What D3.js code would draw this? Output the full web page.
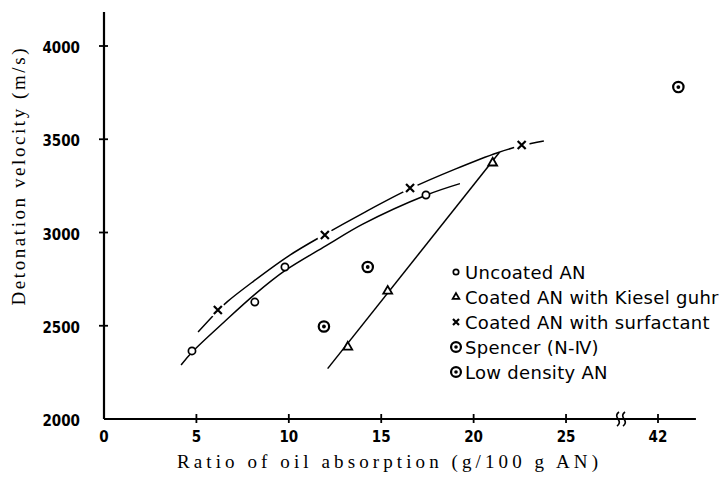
<!DOCTYPE html>
<html>
<head>
<meta charset="utf-8">
<script src="https://cdn.jsdelivr.net/npm/d3@7"></script>
<style>
  body { margin: 0; background: #fff; }
  .tick-label { font-family: "DejaVu Sans Condensed", "DejaVu Sans", sans-serif; font-weight: bold; font-size: 15px; }
  .title { font-family: "Liberation Serif", "DejaVu Serif", serif; font-size: 19px; }
  .legend { font-family: "DejaVu Sans", sans-serif; font-size: 18px; letter-spacing: 0.3px; }
</style>
</head>
<body>
<div class="chart"></div>
<script>
// values
var xLabelValues = [0, 5, 10, 15, 20, 25, 42];
var xTickValues = [5, 10, 15, 20, 25, 42];
var yTickValues = [2000, 2500, 3000, 3500, 4000];

var uncoated = [[4.76, 2365], [8.16, 2627], [9.79, 2815], [17.42, 3201]];
var kieselguhr = [[13.19, 2386], [15.35, 2686], [21.03, 3373]];
var surfactant = [[6.16, 2584], [11.95, 2987], [16.56, 3239], [22.6, 3469]];
var spencer = [[11.9, 2496], [14.27, 2815]];
var lowDensity = [[43.1, 3780]];

var uncoatedCurve = [[4.17, 2290], [4.76, 2358], [6.5, 2520], [8.16, 2668], [9.79, 2795], [12, 2928], [14, 3045], [17.42, 3200], [19.26, 3262]];
var surfactantCurve = [[5.09, 2466], [6.2, 2584], [6.66, 2628], [8, 2732], [10, 2875], [11.95, 2990], [14, 3103], [16.56, 3235], [19, 3340], [21.3, 3428], [22.6, 3466], [23.8, 3491]];
var kieselLine = [[12.1, 2270], [21.4, 3430]];

var legendLabels = ["Uncoated AN", "Coated AN with Kiesel guhr", "Coated AN with surfactant", "Spencer (N-\u2163)", "Low density AN"];
var legendKinds = ["circle", "triangle", "cross", "bull", "bull"];

var width = 723,
    height = 481;

var svg = d3.select(".chart").append("svg")
  .attr("width", width)
  .attr("height", height)
  .style("background", "#fff");

// broken x axis: 25 .. 42 squeezed
var x = d3.scaleLinear()
  .domain([0, 27, 41, 45])
  .range([104, 603, 639.5, 713.5]);

var y = d3.scaleLinear()
  .domain([2000, 4000])
  .range([419, 46]);

// axes
svg.append("line")
  .attr("x1", x(0)).attr("x2", x(0))
  .attr("y1", 12).attr("y2", y(2000))
  .attr("stroke", "#000").attr("stroke-width", 2.2);

svg.append("line")
  .attr("x1", x(0)).attr("x2", x(44.05))
  .attr("y1", y(2000)).attr("y2", y(2000))
  .attr("stroke", "#000").attr("stroke-width", 2);

svg.selectAll(".ytick")
  .data(yTickValues.slice(1))
  .enter().append("line")
  .attr("x1", x(0) - 5).attr("x2", x(0) + 4)
  .attr("y1", function(d) { return y(d); })
  .attr("y2", function(d) { return y(d); })
  .attr("stroke", "#000").attr("stroke-width", 1.8);

svg.selectAll(".ylabel")
  .data(yTickValues)
  .enter().append("text")
  .attr("class", "tick-label")
  .attr("x", 80)
  .attr("y", function(d) { return y(d) + 2; })
  .attr("text-anchor", "end")
  .attr("dominant-baseline", "central")
  .text(function(d) { return d; });

svg.selectAll(".xtick")
  .data(xTickValues)
  .enter().append("line")
  .attr("x1", function(d) { return x(d); })
  .attr("x2", function(d) { return x(d); })
  .attr("y1", y(2000) - 5).attr("y2", y(2000) + 4)
  .attr("stroke", "#000").attr("stroke-width", 1.8);

svg.selectAll(".xlabel")
  .data(xLabelValues)
  .enter().append("text")
  .attr("class", "tick-label")
  .attr("x", function(d) { return x(d); })
  .attr("y", 437)
  .attr("text-anchor", "middle")
  .attr("dominant-baseline", "central")
  .text(function(d) { return d; });

// break mark on x axis
[618, 624].forEach(function(bx) {
  svg.append("path")
    .attr("d", "M" + (bx - 1) + "," + 426 + " q4,-3 1,-7 q-3,-4 1,-7")
    .attr("fill", "none").attr("stroke", "#000").attr("stroke-width", 1.6);
});

// titles
svg.append("text")
  .attr("class", "title")
  .attr("transform", "translate(18,177) rotate(-90)")
  .attr("text-anchor", "middle")
  .attr("dominant-baseline", "central")
  .attr("textLength", 257)
  .attr("lengthAdjust", "spacing")
  .text("Detonation velocity (m/s)");

svg.append("text")
  .attr("class", "title")
  .attr("x", 387.5)
  .attr("y", 461)
  .attr("text-anchor", "middle")
  .attr("dominant-baseline", "central")
  .attr("textLength", 421)
  .attr("lengthAdjust", "spacing")
  .text("Ratio of oil absorption (g/100 g AN)");

// fitted lines
var line = d3.line()
  .x(function(d) { return x(d[0]); })
  .y(function(d) { return y(d[1]); })
  .curve(d3.curveCatmullRom);

svg.append("path")
  .attr("d", line(uncoatedCurve))
  .attr("fill", "none").attr("stroke", "#000").attr("stroke-width", 1.5);

svg.append("path")
  .attr("d", line(surfactantCurve))
  .attr("fill", "none").attr("stroke", "#000").attr("stroke-width", 1.5);

svg.append("path")
  .attr("d", d3.line()(kieselLine.map(function(d) { return [x(d[0]), y(d[1])]; })))
  .attr("fill", "none").attr("stroke", "#000").attr("stroke-width", 1.5);

// gaps in the surfactant line around its crosses
svg.selectAll(".gap")
  .data(surfactant)
  .enter().append("circle")
  .attr("cx", function(d) { return x(d[0]); })
  .attr("cy", function(d) { return y(d[1]); })
  .attr("r", 8)
  .attr("fill", "#fff");

function drawMarker(g, kind, cx, cy, s) {
  if (kind == "circle") {
    g.append("circle").attr("cx", cx).attr("cy", cy).attr("r", 3.6 * s)
      .attr("fill", "#fff").attr("stroke", "#000").attr("stroke-width", 1.7);
  } else if (kind == "triangle") {
    g.append("path")
      .attr("transform", "translate(" + cx + "," + cy + ")")
      .attr("d", d3.symbol().type(d3.symbolTriangle).size(34 * s * s)())
      .attr("fill", "#fff").attr("stroke", "#000").attr("stroke-width", 1.8);
  } else if (kind == "cross") {
    var r = 4 * s;
    g.append("path")
      .attr("d", "M" + (cx - r) + "," + (cy - r) + "L" + (cx + r) + "," + (cy + r) +
                 "M" + (cx + r) + "," + (cy - r) + "L" + (cx - r) + "," + (cy + r))
      .attr("stroke", "#000").attr("stroke-width", 2.2);
  } else {
    g.append("circle").attr("cx", cx).attr("cy", cy).attr("r", 5.2 * s)
      .attr("fill", "#fff").attr("stroke", "#000").attr("stroke-width", 2.2);
    g.append("circle").attr("cx", cx).attr("cy", cy).attr("r", 1.9 * s)
      .attr("fill", "#000");
  }
}

var marks = svg.append("g");
uncoated.forEach(function(d) { drawMarker(marks, "circle", x(d[0]), y(d[1]), 1); });
kieselguhr.forEach(function(d) { drawMarker(marks, "triangle", x(d[0]), y(d[1]), 1); });
surfactant.forEach(function(d) { drawMarker(marks, "cross", x(d[0]), y(d[1]), 1); });
spencer.forEach(function(d) { drawMarker(marks, "bull", x(d[0]), y(d[1]), 1); });
lowDensity.forEach(function(d) { drawMarker(marks, "bull", x(d[0]), y(d[1]), 1); });

// legend
var legend = svg.append("g");
legendLabels.forEach(function(label, i) {
  var ly = 272 + i * 25;
  var k = legendKinds[i];
  drawMarker(legend, k, 456, ly, k == "bull" ? 0.95 : 0.75);
  legend.append("text")
    .attr("class", "legend")
    .attr("x", 465)
    .attr("y", ly)
    .attr("dominant-baseline", "central")
    .text(label);
});
</script>
</body>
</html>
